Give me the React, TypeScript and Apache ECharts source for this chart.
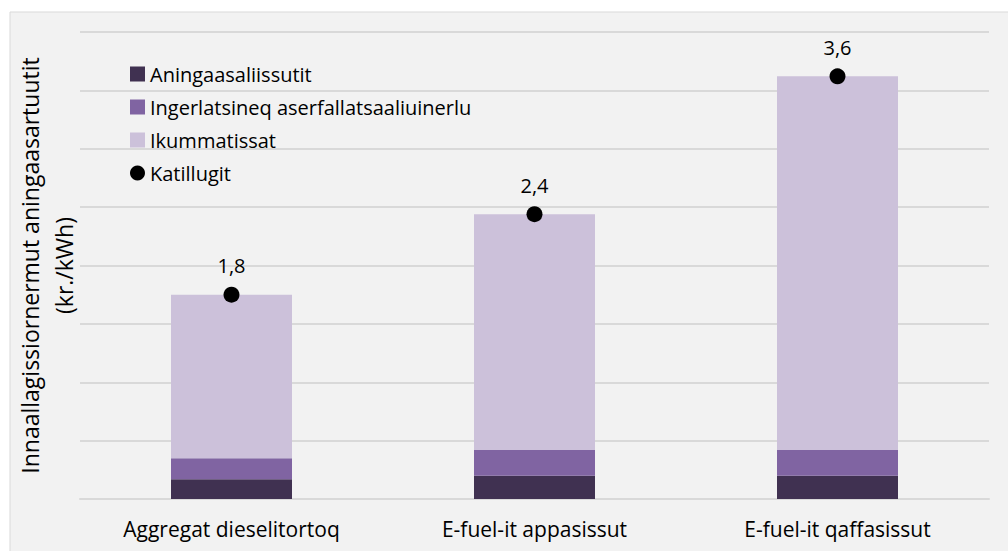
import React, { useEffect, useRef } from "react";
import * as echarts from "echarts";

const categories = ["Aggregat dieselitortoq", "E-fuel-it appasissut", "E-fuel-it qaffasissut"];
const investment = [0.17, 0.2, 0.2];
const operation = [0.18, 0.22, 0.22];
const fuel = [1.4, 2.02, 3.2];
const total = [1.75, 2.44, 3.62];
const seriesNames = ["Aningaasaliissutit", "Ingerlatsineq aserfallatsaaliuinerlu", "Ikummatissat", "Katillugit"];
const yAxisTitle = "Innaallagissiornermut aningaasartuutit\n(kr./kWh)";

const FONT = "'Open Sans', 'Noto Sans', sans-serif";

export default function App() {
  const ref = useRef<HTMLDivElement>(null);
  useEffect(() => {
    if (!ref.current) return;
    const chart = echarts.init(ref.current, undefined, { renderer: "svg" });
    chart.setOption({
      animation: false,
      backgroundColor: "#ffffff",
      textStyle: { fontFamily: FONT },
      graphic: [
        {
          type: "rect",
          shape: { x: 10, y: 12, width: 1010, height: 560 },
          style: { fill: "#f2f2f2", stroke: "#d9d9d9", lineWidth: 1 },
          z: -10,
          silent: true,
        },
      ],
      legend: {
        orient: "vertical",
        left: 125,
        top: 59,
        itemWidth: 15,
        itemHeight: 15,
        itemGap: 13,
        textStyle: { fontFamily: FONT, fontSize: 20, color: "#000" },
        data: [
          { name: seriesNames[0], icon: "rect" },
          { name: seriesNames[1], icon: "rect" },
          { name: seriesNames[2], icon: "rect" },
          { name: seriesNames[3], icon: "circle" },
        ],
      },
      grid: { left: 80, right: 19, top: 32, bottom: 52, containLabel: false, outerBoundsMode: "none" },
      xAxis: {
        type: "category",
        data: categories,
        axisLine: { show: true, lineStyle: { color: "#d9d9d9", width: 2 } },
        axisTick: { show: false },
        axisLabel: { fontFamily: FONT, fontSize: 21, color: "#000", margin: 19 },
      },
      yAxis: {
        type: "value",
        min: 0,
        max: 4,
        interval: 0.5,
        name: yAxisTitle,
        nameLocation: "middle",
        nameRotate: 90,
        nameGap: -1,
        nameTextStyle: { fontFamily: FONT, fontSize: 23, color: "#000", lineHeight: 34 },
        axisLabel: { show: false },
        axisTick: { show: false },
        axisLine: { show: false },
        splitLine: { lineStyle: { color: "#d9d9d9", width: 2 } },
      },
      series: [
        {
          name: seriesNames[0],
          type: "bar",
          stack: "cost",
          barWidth: 121,
          data: investment,
          itemStyle: { color: "#403151" },
        },
        {
          name: seriesNames[1],
          type: "bar",
          stack: "cost",
          barWidth: 121,
          data: operation,
          itemStyle: { color: "#8064a2" },
        },
        {
          name: seriesNames[2],
          type: "bar",
          stack: "cost",
          barWidth: 121,
          data: fuel,
          itemStyle: { color: "#ccc1da" },
        },
        {
          name: seriesNames[3],
          type: "scatter",
          data: total,
          symbol: "circle",
          symbolSize: 16,
          itemStyle: { color: "#000", opacity: 1 },
          z: 10,
          label: {
            show: true,
            position: "top",
            distance: 11,
            fontFamily: FONT,
            fontSize: 20,
            color: "#000",
            formatter: (p: any) => Number(p.value).toFixed(1).replace(".", ","),
          },
        },
      ],
    });
    return () => chart.dispose();
  }, []);
  return (
    <div
      ref={ref}
      style={{ position: "fixed", left: 0, top: 0, width: 1008, height: 551 }}
    />
  );
}
